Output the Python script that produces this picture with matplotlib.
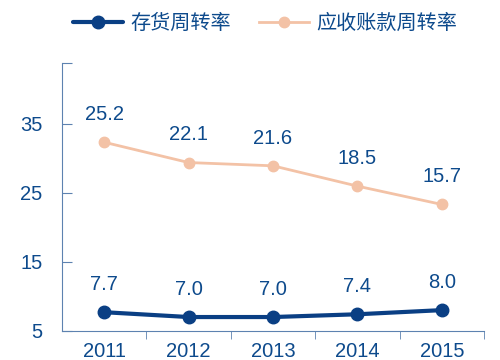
import matplotlib.pyplot as plt

plt.rcParams["font.family"] = ["Liberation Sans", "Noto Sans CJK SC", "DejaVu Sans"]

years = ["2011", "2012", "2013", "2014", "2015"]
inventory_turnover = [7.7, 7.0, 7.0, 7.4, 8.0]
receivable_turnover = [25.2, 22.1, 21.6, 18.5, 15.7]
inv_name = "存货周转率"
rec_name = "应收账款周转率"
y_ticks = [5, 15, 25, 35]

text_color = "#0d4a8c"
axis_color = "#5d82b0"
blue = "#0a3f84"
pink = "#f3c2a6"

fig = plt.figure(figsize=(5, 3.6), dpi=100)
ax = fig.add_axes([0.124, 0.081, 0.844, 0.744])
ax2 = ax.twinx()

x = list(range(len(years)))

l1, = ax.plot(x, inventory_turnover, color=blue, lw=3, marker="o", ms=9,
              solid_capstyle="round", zorder=3)
l2, = ax2.plot(x, receivable_turnover, color=pink, lw=2, marker="o", ms=7.5,
               zorder=3)

for xi, v in zip(x, inventory_turnover):
    ax.annotate(f"{v:.1f}", (xi, v), xytext=(0, 20), textcoords="offset points",
                ha="center", va="center", fontsize=14.5, color=text_color)
for xi, v in zip(x, receivable_turnover):
    ax2.annotate(f"{v:.1f}", (xi, v), xytext=(0, 20), textcoords="offset points",
                 ha="center", va="center", fontsize=14.5, color=text_color)

ax.set_xlim(-0.5, len(years) - 0.5)
ax.set_ylim(5, 43.8)
ax2.set_ylim(-3.6, 37.3)

ax.set_yticks(y_ticks + [43.8])
ax.set_yticklabels([str(t) for t in y_ticks] + [""])
ax.tick_params(axis="y", direction="in", length=7, color=axis_color,
               labelcolor=text_color, labelsize=14.5, pad=14)

ax.set_xticks(x)
ax.set_xticklabels(years)
ax.set_xticks([i + 0.5 for i in x], minor=True)
ax.tick_params(axis="x", which="major", length=0, labelcolor=text_color,
               labelsize=14.5, pad=8)
ax.tick_params(axis="x", which="minor", direction="out", length=6,
               color=axis_color)

for a in (ax, ax2):
    for s in ("top", "right"):
        a.spines[s].set_visible(False)
ax2.spines["left"].set_visible(False)
ax2.spines["bottom"].set_visible(False)
ax2.set_yticks([])
ax.spines["left"].set_color(axis_color)
ax.spines["bottom"].set_color(axis_color)

fig.legend([l1, l2], [inv_name, rec_name], loc="upper center",
           bbox_to_anchor=(0.53, 1.015), ncol=2, frameon=False,
           labelcolor=text_color, handlelength=2.5, columnspacing=1.4,
           handletextpad=0.35, prop={"family": ["Noto Sans CJK SC"], "size": 14.5})

fig.savefig("out.png", dpi=100)
